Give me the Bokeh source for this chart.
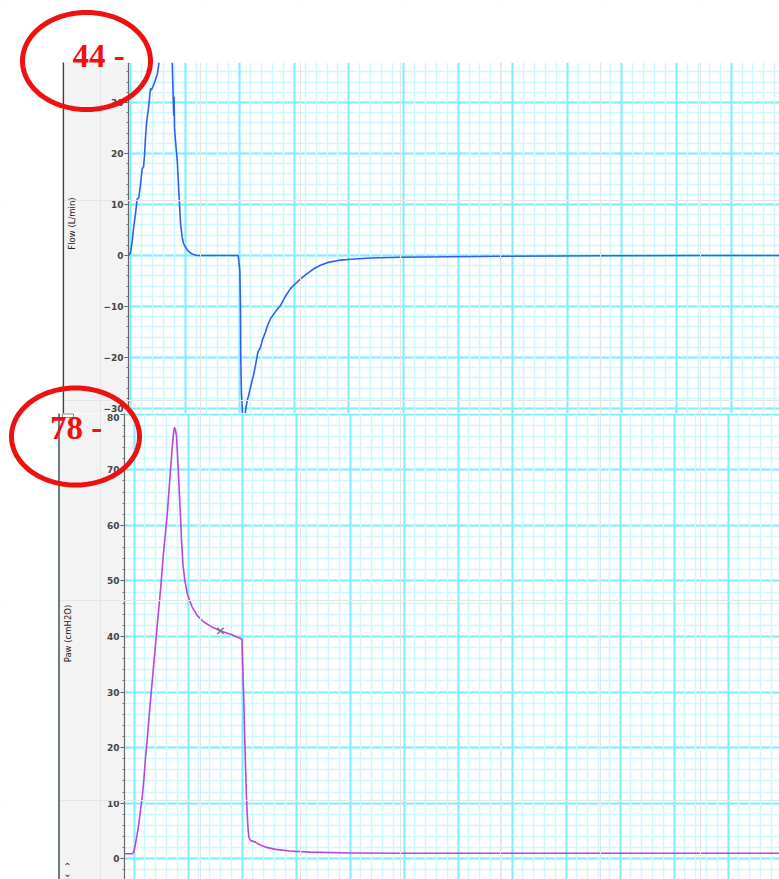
import numpy as np
from bokeh.plotting import figure
from bokeh.layouts import column, row
from bokeh.models import (Range1d, SingleIntervalTicker, Grid, BoxAnnotation,
                          PolyAnnotation, Label, GridBox)
from bokeh.embed import file_html
from bokeh.resources import INLINE

# ---------------- data (time in s) ----------------
flow_t = [-0.018, 0.000, 0.016, 0.032, 0.046, 0.061, 0.076, 0.092, 0.107, 0.119,
          0.128, 0.137, 0.147, 0.165, 0.183, 0.192, 0.213, 0.229, 0.245, 0.256,
          0.268, 0.279, 0.302, 0.330, 0.357, 0.375, 0.382, 0.391, 0.396, 0.399,
          0.403, 0.412, 0.428, 0.442, 0.458, 0.473, 0.485, 0.504, 0.527, 0.549,
          0.577, 0.611, 0.986, 1.001, 1.007, 1.010, 1.016, 1.023, 1.035, 1.049,
          1.053, 1.069, 1.081, 1.099, 1.129, 1.145, 1.166, 1.190, 1.209, 1.236,
          1.259, 1.282, 1.328, 1.374, 1.419, 1.465, 1.511, 1.557, 1.621, 1.679,
          1.740, 1.801, 1.923, 2.015, 2.198, 2.473, 2.930, 3.388, 4.304, 5.220, 5.950]
flow_v = [0.0, 0.5, 2.9, 6.0, 8.2, 11.1, 11.3, 14.0, 17.0, 17.3,
          19.5, 23.0, 26.0, 29.0, 32.7, 32.5, 33.5, 34.5, 35.5, 37.0,
          39.0, 41.0, 43.0, 44.0, 43.0, 40.0, 37.8, 31.0, 27.5, 31.0,
          25.0, 22.5, 18.6, 12.7, 6.3, 3.6, 2.4, 1.6, 0.9, 0.5,
          0.2, 0.0, 0.0, -2.9, -10.1, -20.6, -27.0, -29.7, -36.0, -32.0,
          -30.4, -28.4, -27.5, -25.8, -23.2, -21.5, -19.0, -18.0, -16.5, -15.0,
          -13.5, -12.4, -11.0, -9.8, -8.0, -6.5, -5.5, -4.6, -3.5, -2.6,
          -1.9, -1.4, -0.9, -0.75, -0.5, -0.35, -0.25, -0.15, -0.05, 0.0, 0.0]

paw_t = [-0.090, -0.019, -0.004, 0.012, 0.028, 0.043, 0.058, 0.074, 0.089, 0.105,
         0.120, 0.135, 0.151, 0.197, 0.244, 0.271, 0.306, 0.336, 0.352, 0.364,
         0.373, 0.382, 0.392, 0.413, 0.429, 0.438, 0.452, 0.469, 0.491, 0.537,
         0.583, 0.644, 0.722, 0.799, 0.892, 0.991, 0.998, 1.007, 1.015, 1.023,
         1.031, 1.040, 1.046, 1.054, 1.061, 1.077, 1.123, 1.154, 1.215, 1.308,
         1.439, 1.632, 2.002, 2.465, 3.391, 4.317, 5.242, 5.980]
paw_v = [0.9, 0.9, 1.2, 2.7, 4.5, 6.3, 8.7, 11.1, 14.1, 18.3,
         21.3, 24.9, 28.5, 38.5, 48.5, 55.0, 62.0, 69.9, 74.0, 76.5,
         77.6, 77.2, 76.0, 68.0, 61.5, 57.3, 52.8, 50.1, 47.7, 45.3,
         43.8, 42.6, 41.7, 41.0, 40.4, 39.6, 39.3, 33.0, 28.5, 22.0,
         16.5, 11.0, 8.1, 5.5, 3.9, 3.3, 3.0, 2.6, 2.1, 1.7,
         1.4, 1.2, 1.05, 1.0, 1.0, 1.0, 1.0, 1.0]

cursor_t = [0.799]
cursor_v = [41.0]

flow_label = "Flow (L/min)"
paw_label = "Paw (cmH2O)"
flow_note = "44 -"
paw_note = "78 -"

# ---------------- layout constants ----------------
W, H = 779, 879
TOP_H = 413
BOT_H = H - TOP_H
TOP_XR, TOP_YR = (-0.0183, 5.943), (-30.98, 37.84)
BOT_XR, BOT_YR = (-0.0898, 5.975), (-3.725, 80.13)

GRID_MAJOR = "#7fefff"
GRID_MINOR = "#cdf8ff"
PANEL = "#f3f3f3"
DARK = "#2e4848"
RED = "#ee1111"


def make_fig(h, xr, yr, left, top):
    p = figure(width=W, height=h, x_range=Range1d(*xr), y_range=Range1d(*yr),
               x_axis_location=None, y_axis_location="left",
               toolbar_location=None, output_backend="svg",
               min_border_left=left, min_border_right=0,
               min_border_top=top, min_border_bottom=0)
    p.outline_line_color = None
    p.background_fill_color = "white"
    p.border_fill_color = PANEL
    yt = SingleIntervalTicker(interval=10, num_minor_ticks=5)
    xt = SingleIntervalTicker(interval=0.5, num_minor_ticks=5)
    p.yaxis.ticker = yt
    p.ygrid.ticker = yt
    p.ygrid.grid_line_color = GRID_MAJOR
    p.ygrid.grid_line_width = 2
    p.ygrid.minor_grid_line_color = GRID_MINOR
    p.ygrid.minor_grid_line_width = 1.5
    p.add_layout(Grid(dimension=0, ticker=xt, grid_line_color=GRID_MAJOR, grid_line_width=2,
                      minor_grid_line_color=GRID_MINOR, minor_grid_line_width=1.5))
    ax = p.yaxis[0]
    ax.axis_line_color = "#666666"
    ax.axis_line_width = 1.2
    ax.major_tick_line_color = "#555555"
    ax.minor_tick_line_color = "#777777"
    ax.major_tick_out = 4
    ax.major_tick_in = 0
    ax.minor_tick_out = 2
    ax.minor_tick_in = 0
    ax.major_label_standoff = 1
    ax.major_label_text_font = "DejaVu Sans"
    ax.major_label_text_font_size = "9px"
    ax.major_label_text_font_style = "bold"
    ax.major_label_text_color = "#444444"
    return p


top = make_fig(TOP_H, TOP_XR, TOP_YR, 128, 62)
bot = make_fig(BOT_H, BOT_XR, BOT_YR, 124, 0)

top.line(flow_t, flow_v, line_color="#2f5ff0", line_width=1.6, line_join="round")
bot.line(paw_t, paw_v, line_color="#b845dd", line_width=1.6, line_join="round")
bot.scatter(cursor_t, cursor_v, marker="x", size=9, line_color="#707070", line_width=1.3)

# ---------------- overlay in page pixels (annotations only) ----------------
ov = figure(width=W, height=H, x_range=Range1d(0, W), y_range=Range1d(H, 0),
            x_axis_location=None, y_axis_location=None, toolbar_location=None,
            output_backend="svg", min_border=0, min_border_left=0, min_border_right=0,
            min_border_top=0, min_border_bottom=0)
ov.outline_line_color = None
ov.background_fill_alpha = 0
ov.border_fill_alpha = 0


def box(l, r, t, b, fill, line=None):
    ov.add_layout(BoxAnnotation(left=l, right=r, top=t, bottom=b, fill_color=fill, fill_alpha=1,
                                line_color=line, line_alpha=1, line_width=1))


box(0, W, 0, 62, "white")          # white strip above the charts
box(0, 63, 0, TOP_H, "white")      # white left of the flow label panel
box(0, 58.5, TOP_H, H, "white")    # white left of the paw label panel
box(62.2, 63.6, 62, TOP_H, DARK)
box(57.8, 59.2, TOP_H, H, DARK)
box(62, 73, TOP_H + 0.5, TOP_H + 4, "white", "#888888")

ov.add_layout(Label(x=71, y=223, text=flow_label, angle=np.pi / 2,
                    text_align="center", text_baseline="middle", text_font="DejaVu Sans",
                    text_font_size="8.5px", text_color="#222222"))
ov.add_layout(Label(x=67, y=633, text=paw_label, angle=np.pi / 2,
                    text_align="center", text_baseline="middle", text_font="DejaVu Sans",
                    text_font_size="8.5px", text_color="#222222"))
ov.add_layout(Label(x=67, y=866, text="⌃", text_align="center", text_baseline="middle",
                    text_font="DejaVu Sans", text_font_size="10px", text_color="#333333"))
ov.add_layout(Label(x=67, y=873, text="⌄", text_align="center", text_baseline="middle",
                    text_font="DejaVu Sans", text_font_size="10px", text_color="#333333"))

theta = np.linspace(0, 2 * np.pi, 181)


def ellipse(cx, cy, rx, ry):
    xs = cx + rx * np.cos(theta)
    ys = cy + ry * np.sin(theta)
    ov.add_layout(PolyAnnotation(xs=[float(v) for v in xs], ys=[float(v) for v in ys],
                                 fill_alpha=0, line_color=RED, line_alpha=1, line_width=5))


ellipse(86, 60.5, 64, 48.5)
ellipse(75, 436, 64, 48.5)

ov.add_layout(Label(x=72, y=55, text=flow_note, text_font="Liberation Serif",
                    text_font_style="bold", text_font_size="33px", text_color=RED,
                    text_baseline="alphabetic", text_align="left"))
ov.add_layout(Label(x=49.5, y=427, text=paw_note, text_font="Liberation Serif",
                    text_font_style="bold", text_font_size="33px", text_color=RED,
                    text_baseline="alphabetic", text_align="left"))

charts = column(row(top), row(bot), spacing=0)
layout = GridBox(children=[(charts, 0, 0), (row(ov), 0, 0)], spacing=0)
open("out.html", "w").write(file_html(layout, INLINE))
